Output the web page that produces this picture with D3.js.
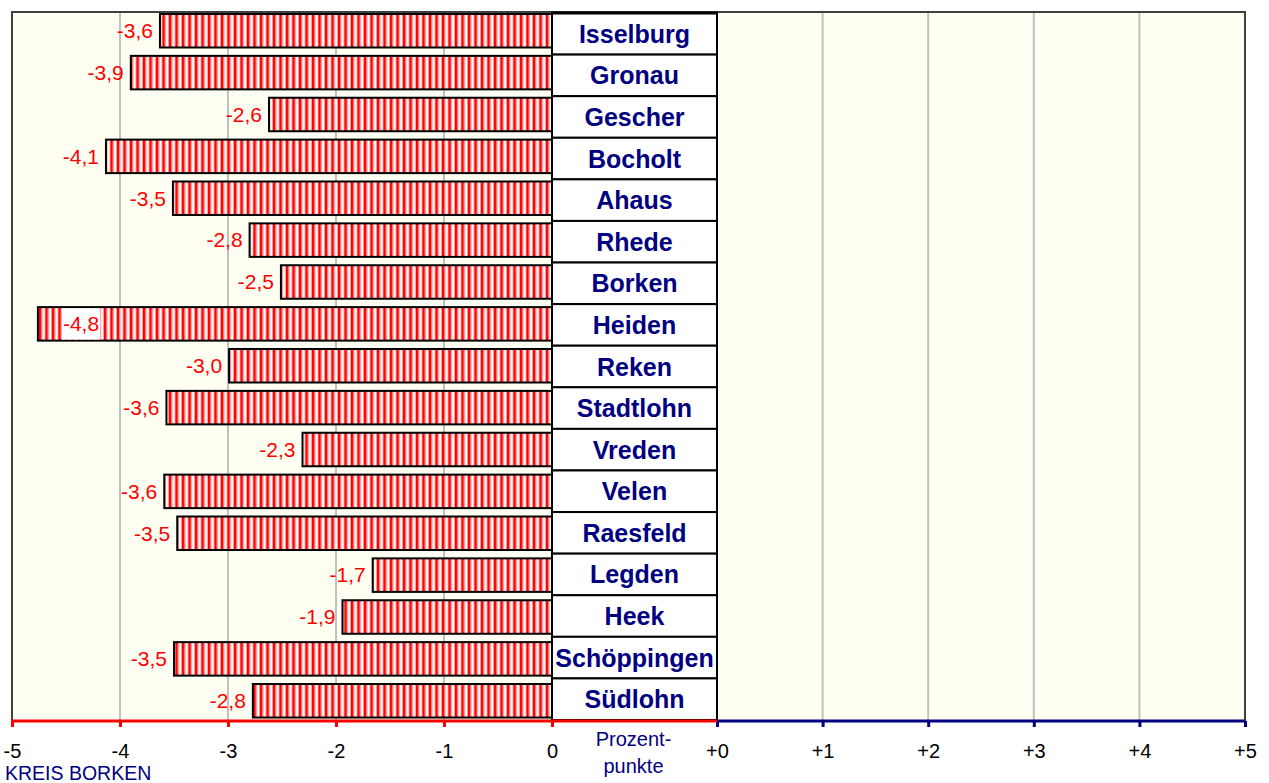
<!DOCTYPE html>
<html>
<head>
<meta charset="utf-8">
<script src="https://cdn.jsdelivr.net/npm/d3@7"></script>
<style>
  body { margin: 0; background: #fff; }
  svg { display: block; }
  text { font-family: "Liberation Sans", Arial, sans-serif; }
</style>
</head>
<body>
<svg id="chart"></svg>
<script>
// Veränderung in Prozentpunkten, Gemeinden im Kreis Borken
const towns = ["Isselburg", "Gronau", "Gescher", "Bocholt", "Ahaus", "Rhede", "Borken", "Heiden",
  "Reken", "Stadtlohn", "Vreden", "Velen", "Raesfeld", "Legden", "Heek", "Schöppingen", "Südlohn"];
const changes = [-3.63, -3.90, -2.62, -4.13, -3.51, -2.80, -2.51, -4.76,
  -2.99, -3.57, -2.31, -3.59, -3.47, -1.66, -1.94, -3.50, -2.77];
const leftTicks = [-5, -4, -3, -2, -1, 0];
const rightTicks = [0, 1, 2, 3, 4, 5];

const width = 1269, height = 783;
const plot = { left: 12, top: 12, right: 1245, bottom: 721, boxL: 552, boxR: 717 };
const RED = "#ff0000", NAVY = "#000080";

const svg = d3.select("#chart").attr("width", width).attr("height", height);
const defs = svg.append("defs");

// pale yellow dotted plot background
const bg = defs.append("pattern").attr("id", "dots")
  .attr("patternUnits", "userSpaceOnUse").attr("width", 4).attr("height", 4);
bg.append("rect").attr("width", 4).attr("height", 4).attr("fill", "#fffffd");
bg.append("rect").attr("width", 2).attr("height", 2).attr("fill", "#ffffe8");
bg.append("rect").attr("x", 2).attr("y", 2).attr("width", 2).attr("height", 2).attr("fill", "#ffffe8");

// vertical red stripes for bars
const st = defs.append("pattern").attr("id", "stripes")
  .attr("patternUnits", "userSpaceOnUse").attr("width", 6.5).attr("height", 10);
st.append("rect").attr("width", 6.5).attr("height", 10).attr("fill", "#fff");
st.append("rect").attr("width", 2.5).attr("height", 10).attr("fill", RED);
st.append("rect").attr("x", 2.5).attr("width", 1).attr("height", 10).attr("fill", "#ff9a9a");
st.append("rect").attr("x", 5.5).attr("width", 1).attr("height", 10).attr("fill", "#ff9a9a");

const xL = d3.scaleLinear().domain([-5, 0]).range([plot.left, plot.boxL]);
const xR = d3.scaleLinear().domain([0, 5]).range([plot.boxR, plot.right]);
const yBar = d3.scaleBand().domain(towns).range([9.8, 721.7]).paddingInner(0.2).paddingOuter(0.1);
const yBox = d3.scaleBand().domain(towns).range([13, 720]);

svg.append("rect")
  .attr("x", plot.left).attr("y", plot.top)
  .attr("width", plot.right - plot.left).attr("height", plot.bottom - plot.top)
  .attr("fill", "url(#dots)");

// gridlines
const grid = svg.append("g").attr("stroke", "#c0c0c0").attr("stroke-width", 2);
grid.selectAll("line.l").data(leftTicks.filter((d) => d > -5 && d < 0)).join("line")
  .attr("x1", (d) => xL(d)).attr("x2", (d) => xL(d))
  .attr("y1", plot.top).attr("y2", plot.bottom);
grid.selectAll("line.r").data(rightTicks.filter((d) => d > 0 && d < 5)).join("line")
  .attr("x1", (d) => xR(d)).attr("x2", (d) => xR(d))
  .attr("y1", plot.top).attr("y2", plot.bottom);

// plot frame (top, left, right)
svg.append("path")
  .attr("d", `M${plot.left},${plot.bottom}V${plot.top}H${plot.right}V${plot.bottom}`)
  .attr("fill", "none").attr("stroke", "#404040").attr("stroke-width", 2);

const rows = towns.map((t, i) => ({ town: t, value: changes[i] }));

// bars
svg.append("g").selectAll("rect").data(rows).join("rect")
  .attr("x", (d) => xL(d.value))
  .attr("y", (d) => yBar(d.town))
  .attr("width", (d) => xL(0) - xL(d.value))
  .attr("height", yBar.bandwidth())
  .attr("fill", "url(#stripes)")
  .attr("stroke", "#000").attr("stroke-width", 2);

// value labels
const fmt = (v) => v.toFixed(1).replace(".", ",");
const labels = svg.append("g").selectAll("g").data(rows).join("g");
labels.each(function (d) {
  const g = d3.select(this);
  const cy = yBar(d.town) + yBar.bandwidth() / 2;
  const t = g.append("text")
    .attr("y", cy).attr("dy", "0.35em")
    .attr("font-size", 21).attr("fill", RED)
    .text(fmt(d.value));
  const w = t.node().getComputedTextLength();
  const outsideX = xL(d.value) - 7;
  if (outsideX - w < plot.left) {
    // no room left of the bar: put it inside on a white patch
    const x0 = xL(d.value) + 25;
    t.attr("x", x0).attr("text-anchor", "start");
    g.insert("rect", "text")
      .attr("x", x0 - 1).attr("y", yBar(d.town) + 1)
      .attr("width", w + 2).attr("height", yBar.bandwidth() - 2)
      .attr("fill", "#fff");
  } else {
    t.attr("x", outsideX).attr("text-anchor", "end");
  }
});

// category boxes
const boxes = svg.append("g");
boxes.selectAll("rect").data(towns).join("rect")
  .attr("x", plot.boxL).attr("y", (d) => yBox(d))
  .attr("width", plot.boxR - plot.boxL).attr("height", yBox.bandwidth())
  .attr("fill", "#fff").attr("stroke", "#000").attr("stroke-width", 2);
boxes.selectAll("text").data(towns).join("text")
  .attr("x", (plot.boxL + plot.boxR) / 2)
  .attr("y", (d) => yBox(d) + yBox.bandwidth() / 2)
  .attr("dy", "0.36em")
  .attr("text-anchor", "middle")
  .attr("font-size", 25).attr("font-weight", "bold").attr("fill", NAVY)
  .text((d) => d);
boxes.append("line")
  .attr("x1", plot.boxL - 1).attr("x2", plot.boxR + 1)
  .attr("y1", yBox.range()[0]).attr("y2", yBox.range()[0])
  .attr("stroke", "#000").attr("stroke-width", 3);

// axes
const axL = d3.axisBottom(xL).tickValues(leftTicks).tickFormat((d) => String(d))
  .tickSize(6).tickSizeOuter(0).tickPadding(17);
const axR = d3.axisBottom(xR).tickValues(rightTicks).tickFormat((d) => "+" + d)
  .tickSize(6).tickSizeOuter(0).tickPadding(17);

const gL = svg.append("g").attr("transform", `translate(0,${plot.bottom})`).call(axL);
const gR = svg.append("g").attr("transform", `translate(0,${plot.bottom})`).call(axR);
[[gL, RED], [gR, NAVY]].forEach(([g, c]) => {
  g.select(".domain").remove();
  g.selectAll(".tick line").attr("stroke", c).attr("stroke-width", 3);
  g.selectAll(".tick text").attr("fill", "#000").attr("font-size", 20)
    .attr("font-family", "Liberation Sans, Arial, sans-serif");
});

svg.append("line")
  .attr("x1", plot.left).attr("x2", plot.boxR)
  .attr("y1", plot.bottom).attr("y2", plot.bottom)
  .attr("stroke", RED).attr("stroke-width", 3);
svg.append("line")
  .attr("x1", plot.boxR).attr("x2", plot.right)
  .attr("y1", plot.bottom).attr("y2", plot.bottom)
  .attr("stroke", NAVY).attr("stroke-width", 3);

// unit and area captions
const unit = svg.append("text")
  .attr("x", (plot.boxL + plot.boxR) / 2 - 1).attr("text-anchor", "middle")
  .attr("font-size", 20).attr("fill", NAVY);
unit.append("tspan").attr("x", (plot.boxL + plot.boxR) / 2 - 1).attr("y", 746).text("Prozent-");
unit.append("tspan").attr("x", (plot.boxL + plot.boxR) / 2 - 1).attr("y", 773).text("punkte");

svg.append("text")
  .attr("x", 5).attr("y", 780)
  .attr("font-size", 19.5).attr("fill", NAVY)
  .text("KREIS BORKEN");
</script>
</body>
</html>
